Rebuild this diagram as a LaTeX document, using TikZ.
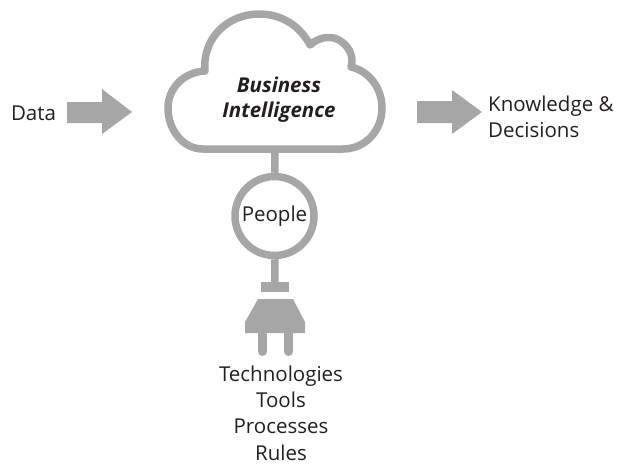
\documentclass[tikz,border=0pt]{standalone}
\usepackage{fontspec}
\setmainfont{Open Sans}
\definecolor{plugGray}{HTML}{A6A6A6}
\definecolor{textBlack}{HTML}{231F20}
\tikzset{
  txt/.style={inner sep=0pt,text=textBlack,font=\fontsize{20.5}{26.3}\selectfont},
  bigtxt/.style={txt,font=\fontsize{20.5}{26.3}\selectfont\bfseries\itshape},
  wire/.style={draw=plugGray,line width=7.5pt},
  solid part/.style={fill=plugGray,draw=none},
}
\begin{document}
\begin{tikzpicture}[x=1pt,y=-1pt]
\useasboundingbox (0,0) rectangle (617,464);
% cloud
\draw [wire,line join=round] (203,149) .. controls (183,149) and (168,130) .. (168,108)
  .. controls (168,88) and (184,72) .. (205,71)
  .. controls (202,38) and (228,14) .. (259,14)
  .. controls (282,14) and (300,26) .. (310,45)
  .. controls (320,36) and (333,35) .. (342,42)
  .. controls (350,48) and (354,58) .. (351,67)
  .. controls (369,71) and (382,88) .. (382,108)
  .. controls (382,131) and (365,149) .. (343,149) -- cycle;
\coordinate (base) at (275,149);
\node [bigtxt] (bi1) at (279,85) {Business};
\node [bigtxt] (bi2) at (279,112) {Intelligence};
% people and plug
\node [circle,wire,minimum size=79pt,inner sep=0pt] (people) at (274.5,216) {};
\node [txt] (peoplelabel) at (274.5,216) {People};
\node [solid part,minimum width=28pt,minimum height=10pt,inner sep=0pt] (bar) at (275,287) {};
\draw [wire] (base) -- (people);
\draw [wire] (people) -- (bar);
\fill [plugGray] (258,299) -- (293,299) -- (305,322) -- (305,333) -- (245,333) -- (245,322) -- cycle;
\draw [plugGray,line width=9pt,line cap=round] (262.5,333) -- (262.5,351.5);
\draw [plugGray,line width=9pt,line cap=round] (288.5,333) -- (288.5,351.5);
% arrows
\fill [plugGray] (67,102) -- (102,102) -- (102,89) -- (132,112) -- (102,134) -- (102,123) -- (67,123) -- cycle;
\fill [plugGray] (417,101) -- (452,101) -- (452,90) -- (482,112) -- (452,134) -- (452,123) -- (417,123) -- cycle;
\node [txt] (data) at (33.5,113) {Data};
\node [txt,anchor=west,align=left] (out) at (488,117) {Knowledge \&\\Decisions};
\node [txt,align=center] (items) at (281,413) {Technologies\\Tools\\Processes\\Rules};
\end{tikzpicture}
\end{document}
